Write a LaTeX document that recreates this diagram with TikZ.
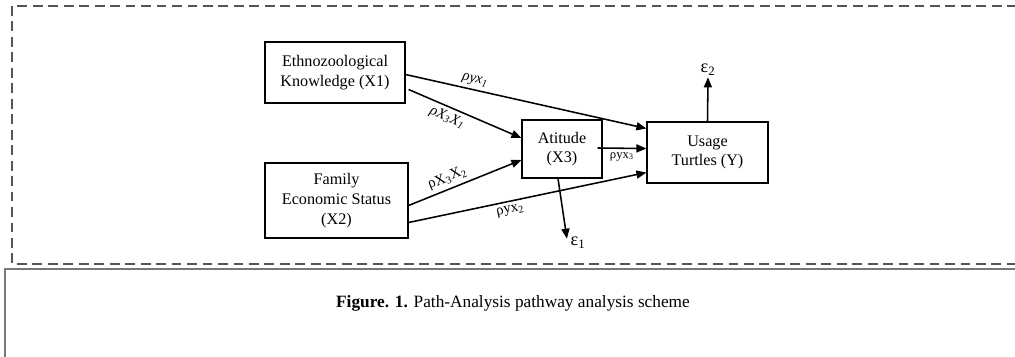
\documentclass[tikz,border=0pt]{standalone}
\usepackage{fontspec}
\setmainfont{Liberation Serif}
\usetikzlibrary{positioning,arrows.meta,calc}
\definecolor{framec}{HTML}{555555}
\definecolor{boxc}{HTML}{777777}
\tikzset{
  varbox/.style={draw, line width=0.8pt, align=center, inner sep=2pt, font=\fontsize{11.5}{14}\selectfont},
  pathedge/.style={-{Triangle[length=2.5mm,width=2mm]}, line width=1.1pt},
  coeff/.style={font=\fontsize{10.5}{12}\selectfont, sloped, inner sep=2.5pt},
  errlabel/.style={font=\fontsize{13}{14}\selectfont, inner sep=1pt}
}

\begin{document}
\begin{tikzpicture}[x=0.025cm,y=-0.025cm]
  \useasboundingbox (0,0) rectangle (1015,356);
  \clip (0,0) rectangle (1015,356);
  % outer frames
  \draw[framec, line width=1.2pt, dash pattern=on 7pt off 4pt] (12,6) rectangle (1030,264);
  \draw[boxc, line width=1.4pt] (5,269) rectangle (1030,370);

  % variables
  \node[varbox, minimum width=3.5cm, minimum height=1.525cm] (x1) at (335,72.5) {Ethnozoological\\Knowledge (X1)};
  \node[varbox, minimum width=3.575cm, minimum height=1.875cm] (x2) at (336.5,200.5) {Family\\Economic Status\\(X2)};
  \node[varbox, minimum width=2cm, minimum height=1.45cm] (x3) at (562,149) {Atitude\\(X3)};
  \node[varbox, minimum width=3.025cm, minimum height=1.525cm] (yv) at (707.5,152.5) {Usage\\Turtles (Y)};

  % residuals
  \node[errlabel] (e2) at (708,70) {ε\textsubscript{2}};
  \node[errlabel] (e1) at (578,243) {ε\textsubscript{1}};

  % paths
  \draw[pathedge] ($(x1.east)+(0,2)$) -- node[coeff, above, pos=0.28] {\textit{ρyx\textsubscript{1}}} ($(yv.west)+(0,-24)$);
  \draw[pathedge] ($(x1.east)+(3,17)$) -- node[coeff, below, pos=0.38] {\textit{ρX\textsubscript{3}X\textsubscript{1}}} ($(x3.west)+(0,-11)$);
  \draw[pathedge] ($(x2.east)+(0,5)$) -- node[coeff, above, pos=0.38] {ρX\textsubscript{3}X\textsubscript{2}} ($(x3.west)+(0,11)$);
  \draw[pathedge] ($(x2.east)+(0,22)$) -- node[coeff, below, pos=0.42] {ρyx\textsubscript{2}} ($(yv.west)+(0,20)$);
  \draw[pathedge] ($(x3.east)+(-5,-1)$) -- node[coeff, below, font=\fontsize{9}{10}\selectfont, pos=0.5] {ρyx\textsubscript{3}} ($(yv.west)+(0,-4)$);
  \draw[pathedge] (yv.north) -- (e2.south);
  \draw[pathedge] ($(x3.south)+(-4,0)$) -- ($(e1.north west)+(-2,3)$);

  % caption
  \node[font=\fontsize{12.3}{14}\selectfont] (cap) at (513,303) {\textbf{Figure. 1.} Path-Analysis pathway analysis scheme};
\end{tikzpicture}
\end{document}
